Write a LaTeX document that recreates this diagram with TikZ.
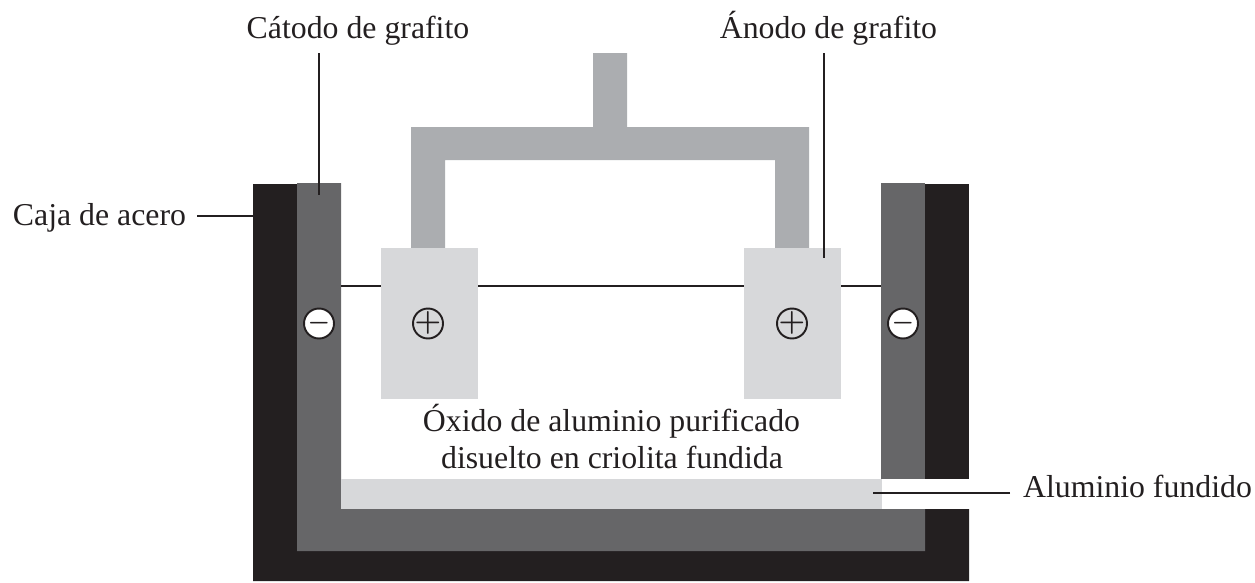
\documentclass[tikz,border=0pt]{standalone}
\usepackage{fontspec}
\setmainfont{Liberation Serif}
\definecolor{acero}{HTML}{231F20}
\definecolor{catodo}{HTML}{666668}
\definecolor{soporte}{HTML}{ABADB0}
\definecolor{claro}{HTML}{D7D8DA}
\newcommand{\signotxt}[1]{\raisebox{-0.25em}[0pt][0pt]{\makebox[0pt]{$#1$}}}
\tikzset{
  etiqueta/.style={inner sep=0pt, anchor=base, text=acero, font=\fontsize{18.1}{21}\selectfont},
  anodo/.style={fill=claro, minimum width=1.94cm, minimum height=3.02cm, inner sep=0pt},
  signo/.style={circle, draw=acero, fill=white, text=acero, line width=1.1pt, minimum size=0.6cm, inner sep=0pt, font=\fontsize{14}{14}\selectfont\boldmath},
  signomas/.style={signo, fill=none, font=\fontsize{17}{17}\selectfont\boldmath},
  guia/.style={draw=acero, line width=0.75pt}
}
\begin{document}
\begin{tikzpicture}[x=0.02cm, y=-0.02cm]
  \useasboundingbox (0,0) rectangle (1255,582);
  % caja y catodo
  \fill[acero] (253,184) -- (297,184) -- (297,509) -- (969,509) -- (969,581) -- (253,581) -- cycle;
  \fill[acero] (925,184) rectangle (969,479);
  \fill[catodo] (297,183) -- (341,183) -- (341,509) -- (925,509) -- (925,551) -- (297,551) -- cycle;
  \fill[catodo] (881,183) rectangle (925,479);
  \fill[claro] (341,479) rectangle (882,509);
  % soporte
  \fill[soporte] (593,53) -- (627,53) -- (627,127) -- (809,127) -- (809,250) -- (775,250) -- (775,160)
     -- (445,160) -- (445,250) -- (411,250) -- (411,127) -- (593,127) -- cycle;
  % hilo
  \coordinate (hiloA) at (341,286);
  \coordinate (hiloB) at (881,286);
  \draw[acero, line width=1.1pt] (hiloA) -- (hiloB);
  \node[anodo] (anodoA) at (429.5,323.5) {};
  \node[anodo] (anodoB) at (792.5,323.5) {};
  \foreach \n/\x in {menosA/319, menosB/903}
    \node[signo] (\n) at (\x,323.5) {\signotxt{-}};
  \foreach \n/\x in {masA/428, masB/792}
    \node[signomas] (\n) at (\x,323.5) {\signotxt{+}};
  % textos
  \node[etiqueta] (catodoT) at (358,38.5) {Cátodo de grafito};
  \node[etiqueta] (anodoT) at (828.5,38.5) {Ánodo de grafito};
  \node[etiqueta] (cajaT) at (99.5,225.5) {Caja de acero};
  \node[etiqueta] (oxidoT) at (611.5,431) {Óxido de aluminio purificado};
  \node[etiqueta] (disueltoT) at (612,468.5) {disuelto en criolita fundida};
  \node[etiqueta] (aluminioT) at (1137.5,497.5) {Aluminio fundido};
  % guias
  \coordinate (catodoP) at (319,195);
  \coordinate (anodoP) at (824,258);
  \coordinate (cajaP) at (253,216);
  \coordinate (cajaQ) at (197,216);
  \coordinate (aluminioP) at (873,493);
  \coordinate (aluminioQ) at (1010,493);
  \coordinate (catodoQ) at (319,53);
  \coordinate (anodoQ) at (824,53);
  \draw[guia] (catodoQ) -- (catodoP);
  \draw[guia] (anodoQ) -- (anodoP);
  \draw[guia] (cajaQ) -- (cajaP);
  \draw[guia] (aluminioQ) -- (aluminioP);
\end{tikzpicture}
\end{document}
